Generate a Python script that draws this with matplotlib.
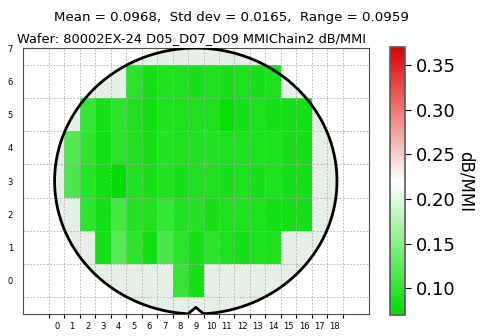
import numpy as np
import matplotlib
matplotlib.use("Agg")
import matplotlib.pyplot as plt                                                         # type: ignore
from matplotlib.colors import LinearSegmentedColormap, Normalize                        # type: ignore
from matplotlib.patches import Rectangle, Polygon                                       # type: ignore

# Summary stats shown in the title
mean_val = 0.0968
std_val = 0.0165
range_val = 0.0959
wafer_id = "80002EX-24 D05_D07_D09 MMIChain2"
unit = "dB/MMI"

# Die map: one list of values per row, starting at the given column
row_y = [6, 5, 4, 3, 2, 1, 0]
row_first_col = [5, 2, 1, 1, 2, 3, 8]
row_6 = [0.095, 0.082, 0.089, 0.087, 0.085, 0.087, 0.085, 0.087, 0.085, 0.087]
row_5 = [0.102, 0.083, 0.097, 0.089, 0.079, 0.089, 0.087, 0.087, 0.087, 0.074, 0.085, 0.087, 0.085, 0.082, 0.082]
row_4 = [0.120, 0.097, 0.082, 0.095, 0.089, 0.082, 0.092, 0.087, 0.089, 0.092, 0.087, 0.089, 0.087, 0.089, 0.085, 0.085]
row_3 = [0.115, 0.092, 0.082, 0.072, 0.089, 0.083, 0.091, 0.084, 0.087, 0.089, 0.085, 0.087, 0.085, 0.089, 0.084, 0.084]
row_2 = [0.097, 0.082, 0.112, 0.092, 0.087, 0.102, 0.089, 0.092, 0.085, 0.087, 0.089, 0.087, 0.082, 0.082, 0.085]
row_1 = [0.085, 0.122, 0.095, 0.079, 0.115, 0.095, 0.084, 0.095, 0.087, 0.085, 0.087, 0.087]
row_0 = [0.102, 0.085]
row_values = [row_6, row_5, row_4, row_3, row_2, row_1, row_0]

x_labels = list(range(0, 19))
y_labels = list(range(0, 8))

# Colour scale
vmin, vmax = 0.070, 0.370
cmap = LinearSegmentedColormap.from_list("gwr", ["#00dd00", "#ffffff", "#e00000"])
norm = Normalize(vmin=vmin, vmax=vmax)

# Wafer outline (centre and radii in die units)
wafer_cx, wafer_cy = 9.0, 3.0
wafer_rx, wafer_ry = 9.14, 4.0
notch_half, notch_h = 0.5, 0.2

fig = plt.figure(figsize=(4.84, 3.36), dpi=100)
ax = fig.add_axes([0.047, 0.0655, 0.715, 0.7915])
cax = fig.add_axes([0.806, 0.0625, 0.031, 0.797])

# Wafer disc with notch
dt = np.arcsin(notch_half / wafer_rx)
t = np.linspace(-np.pi / 2 + dt, 3 * np.pi / 2 - dt, 400)
ox = wafer_cx + wafer_rx * np.cos(t)
oy = wafer_cy + wafer_ry * np.sin(t)
y_edge = oy[0]
ox = np.concatenate([ox, [wafer_cx, ox[0]]])
oy = np.concatenate([oy, [wafer_cy - wafer_ry + notch_h, y_edge]])
ax.add_patch(Polygon(np.column_stack([ox, oy]), closed=True, facecolor="#e6efe6",
                     edgecolor="none", zorder=0.5))
ax.plot(ox, oy, color="black", lw=2, zorder=3)

# Dies
for y, c0, vals in zip(row_y, row_first_col, row_values):
    for i, v in enumerate(vals):
        ax.add_patch(Rectangle((c0 + i - 0.5, y - 0.5), 1, 1, facecolor=cmap(norm(v)),
                               edgecolor="none", zorder=1))

ax.set_xlim(-2.2, 20.2)
ax.set_ylim(-1, 7)

# Grid lines between dies, labels centred on dies
ax.set_xticks(np.arange(-0.5, 19, 1))
ax.set_xticklabels([])
ax.set_xticks(x_labels, minor=True)
ax.set_xticklabels([str(v) for v in x_labels], minor=True, fontsize=6)
ax.set_yticks(np.arange(-0.5, 7, 1))
ax.set_yticklabels([])
ax.set_yticks(y_labels, minor=True)
ax.set_yticklabels([str(v) for v in y_labels], minor=True, fontsize=6)
ax.tick_params(axis="x", which="major", length=3, width=0.8)
ax.tick_params(axis="x", which="minor", length=0, pad=6)
ax.tick_params(axis="y", which="both", length=0, pad=7)
ax.grid(True, which="major", color="0.68", linestyle=(0, (2, 2)), lw=0.6, zorder=2)
for s in ax.spines.values():
    s.set_color("0.3")

ax.set_title(f"Wafer: {wafer_id} {unit}", fontsize=9.4, pad=4, x=0.487)
fig.text(0.479, 0.949, f"Mean = {mean_val:.4f},  Std dev = {std_val:.4f},  Range = {range_val:.4f}",
         ha="center", va="center", fontsize=9.6)

# Colour bar
sm = plt.cm.ScalarMappable(norm=norm, cmap=cmap)
cb = fig.colorbar(sm, cax=cax)
cb.set_ticks([0.10, 0.15, 0.20, 0.25, 0.30, 0.35])
cb.ax.tick_params(labelsize=13, length=4)
cb.outline.set_edgecolor("0.35")
cb.outline.set_linewidth(1.2)
cb.set_label(unit, rotation=270, fontsize=12, labelpad=14)

plt.savefig("out.png", dpi=100)
